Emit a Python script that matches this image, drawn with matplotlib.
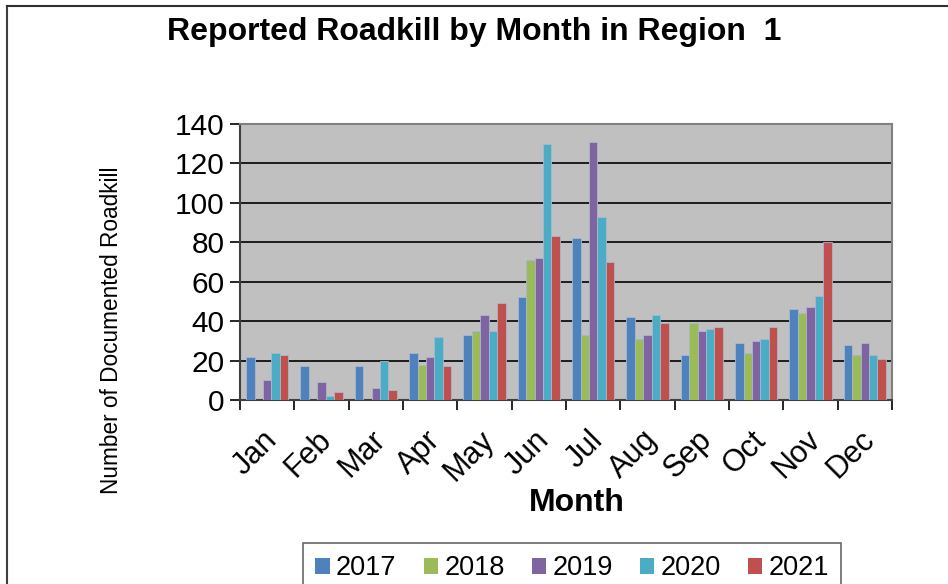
import numpy as np
import matplotlib

matplotlib.use("Agg")
import matplotlib.pyplot as plt
import matplotlib.transforms as mtransforms
from matplotlib.patches import Patch

months = ["Jan", "Feb", "Mar", "Apr", "May", "Jun", "Jul", "Aug", "Sep", "Oct", "Nov", "Dec"]
years = ["2017", "2018", "2019", "2020", "2021"]
y2017 = [22, 17, 17, 24, 33, 52, 82, 42, 23, 29, 46, 28]
y2018 = [0, 0, 0, 18, 35, 71, 33, 31, 39, 24, 44, 23]
y2019 = [10, 9, 6, 22, 43, 72, 131, 33, 35, 30, 47, 29]
y2020 = [24, 2, 20, 32, 35, 130, 93, 43, 36, 31, 53, 23]
y2021 = [23, 4, 5, 17, 49, 83, 70, 39, 37, 37, 80, 21]
series = [y2017, y2018, y2019, y2020, y2021]
colors = ["#4F81BD", "#9BBB59", "#8064A2", "#4BACC6", "#C0504D"]

plt.rcParams["font.family"] = ["Liberation Sans", "DejaVu Sans"]

W, H = 948, 584
fig = plt.figure(figsize=(W / 100, H / 100), dpi=100)
ax = fig.add_axes([240 / W, 184 / H, 652 / W, 276 / H])

# outer chart border (top and left visible)
fig.add_artist(plt.Line2D([7 / W, 7 / W], [0, 1 - 6 / H], color="#404040", lw=1.5))
fig.add_artist(plt.Line2D([7 / W, 1], [1 - 6 / H, 1 - 6 / H], color="#303030", lw=1.5))

x = np.arange(len(months))
bw = 0.155
for i, (vals, c) in enumerate(zip(series, colors)):
    bars = ax.bar(x + (i - 2) * bw, vals, width=bw, color=c, edgecolor="#a8b8cc", linewidth=0.6, zorder=3)
    for b, v in zip(bars, vals):
        if v == 0:
            b.set_visible(False)

ax.set_facecolor("#C0C0C0")
ax.set_xlim(-0.5, 11.5)
ax.set_ylim(0, 140)
ax.set_yticks(range(0, 141, 20))
ax.yaxis.grid(True, color="black", lw=1.2, zorder=0)
ax.set_axisbelow(True)
for s in ["top", "right"]:
    ax.spines[s].set_color("#808080")
    ax.spines[s].set_linewidth(1.5)
for s in ["left", "bottom"]:
    ax.spines[s].set_color("#404040")
    ax.spines[s].set_linewidth(1.5)

ax.set_xticks(np.arange(-0.5, 12, 1))
ax.set_xticklabels([])
ax.set_xticks(x, minor=True)
ax.set_xticklabels(months, minor=True, rotation=45, ha="right", rotation_mode="anchor", fontsize=22)
ax.tick_params(axis="x", which="major", length=7, width=1.2, direction="out")
ax.tick_params(axis="x", which="minor", length=0, pad=10)
ax.tick_params(axis="y", labelsize=21.5, length=7, width=1.2, direction="out", pad=4)
shift = mtransforms.ScaledTranslation(-5 / 100, -11 / 100, fig.dpi_scale_trans)
for lbl in ax.get_xticklabels(minor=True):
    lbl.set_transform(lbl.get_transform() + shift)

fig.text(112 / W, 1 - 330 / H, "Number of Documented Roadkill", rotation=90, ha="center", va="center",
         fontsize=16.3)
fig.text(577 / W, 1 - 503 / H, "Month", ha="center", va="center", fontsize=23, fontweight="bold")
fig.text(474 / W, 1 - 32 / H, "Reported Roadkill by Month in Region  1", ha="center", va="center",
         fontsize=23, fontweight="bold")

handles = [Patch(facecolor=c, edgecolor="none") for c in colors]
leg = ax.legend(handles, years, loc="upper center", bbox_to_anchor=(572 / W, 1 - 543 / H),
                bbox_transform=fig.transFigure, ncol=5, fontsize=19.5, frameon=True, fancybox=False,
                handlelength=0.53, handleheight=0.53, handletextpad=0.23, columnspacing=1.0,
                borderpad=0.45, borderaxespad=0)
leg.get_frame().set_edgecolor("#404040")
leg.get_frame().set_linewidth(1.2)

plt.savefig("out.png", dpi=100)
